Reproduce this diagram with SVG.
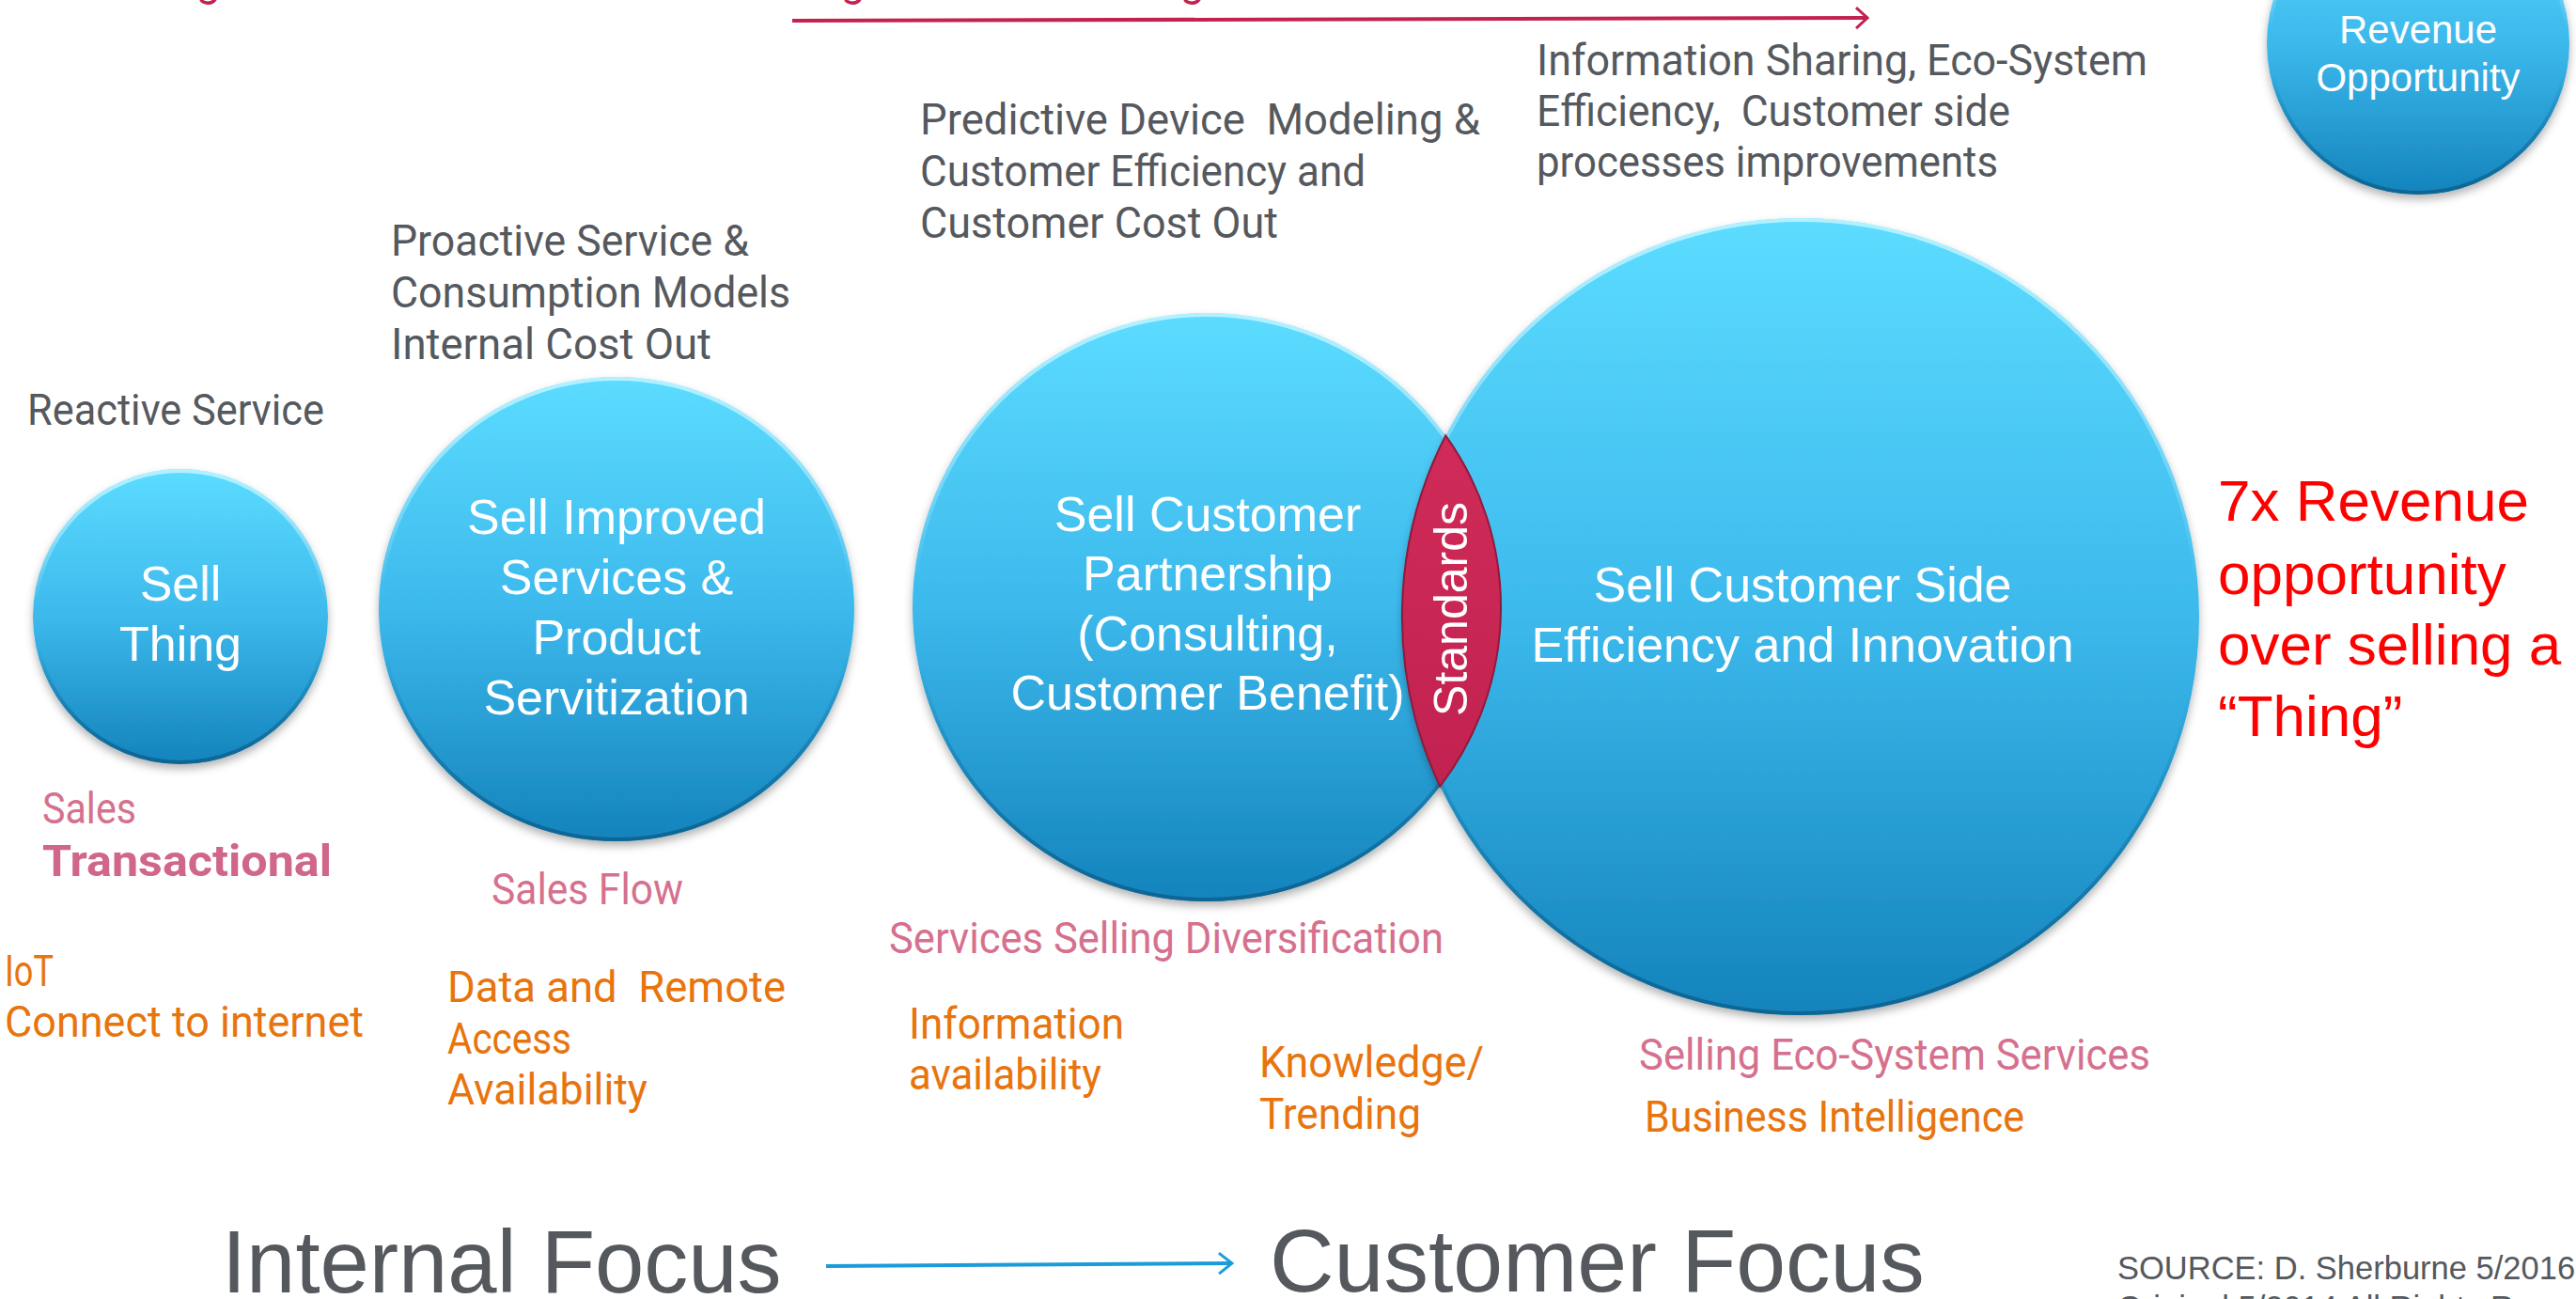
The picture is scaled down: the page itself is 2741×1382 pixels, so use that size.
<svg xmlns="http://www.w3.org/2000/svg" width="2741" height="1382" viewBox="0 0 2741 1382">
<defs>
<style>
.ball{fill:url(#blue);filter:url(#sh)}
.rim{fill:none;stroke:url(#rim);stroke-width:4}
.lbl{font-family:"Liberation Sans",Arial,sans-serif;fill:#fff;text-anchor:middle;font-size:52px}
.seg{font-family:Roboto,"Open Sans",sans-serif;font-size:46px}
.gray{fill:#55595e}
.pink{fill:#d5718e}
.orange{fill:#e8740e}
.big{font-family:"Liberation Sans",Arial,sans-serif;fill:#55595e}
.red{font-family:"Liberation Sans",Arial,sans-serif;fill:#ff0000;font-size:62px}
</style>
<linearGradient id="blue" x1="0" y1="0" x2="0" y2="1">
<stop offset="0" stop-color="#5cdcff"/>
<stop offset="0.5" stop-color="#3cb9ec"/>
<stop offset="1" stop-color="#1483bc"/>
</linearGradient>
<linearGradient id="rim" x1="0" y1="0" x2="0" y2="1">
<stop offset="0" stop-color="#c8f6ff" stop-opacity="0.8"/>
<stop offset="0.45" stop-color="#ffffff" stop-opacity="0"/>
<stop offset="0.6" stop-color="#0b5e8a" stop-opacity="0"/>
<stop offset="1" stop-color="#0b5e8a" stop-opacity="0.8"/>
</linearGradient>
<linearGradient id="crim" x1="0" y1="0" x2="0" y2="1">
<stop offset="0" stop-color="#d02b59"/>
<stop offset="1" stop-color="#c1224f"/>
</linearGradient>
<filter id="sh" x="-10%" y="-10%" width="120%" height="125%">
<feDropShadow dx="0" dy="5" stdDeviation="5" flood-color="#000" flood-opacity="0.3"/>
</filter>
<marker id="arrC" viewBox="0 0 16 26" refX="14" refY="13" markerWidth="16" markerHeight="26" markerUnits="userSpaceOnUse" orient="auto">
<path d="M2,2 L14,13 L2,24" fill="none" stroke="#c2224f" stroke-width="3"/>
</marker>
<marker id="arrB" viewBox="0 0 18 26" refX="16" refY="13" markerWidth="18" markerHeight="26" markerUnits="userSpaceOnUse" orient="auto">
<path d="M2,2 L16,13 L2,24" fill="none" stroke="#1b9bda" stroke-width="3"/>
</marker>
</defs>
<rect width="2741" height="1382" fill="#ffffff"/>

<g id="connectors">
<line x1="843" y1="22" x2="1987" y2="19" stroke="#c2224f" stroke-width="4" marker-end="url(#arrC)"/>
<line x1="879" y1="1347" x2="1311" y2="1344" stroke="#1b9bda" stroke-width="4" marker-end="url(#arrB)"/>
</g>

<g id="top-cut-text" class="seg" style="fill:#c2224f">
<text x="209" y="-4">g</text>
<text x="895" y="-4">g</text>
<text x="1256" y="-4">g</text>
</g>

<g id="n-sell-thing">
<circle class="ball" cx="192" cy="656" r="157"/>
<circle class="rim" cx="192" cy="656" r="155"/>
<text class="lbl"><tspan x="192" y="639">Sell</tspan><tspan x="192" y="703">Thing</tspan></text>
</g>

<g id="n-sell-improved">
<ellipse class="ball" cx="656" cy="648" rx="253" ry="247"/>
<ellipse class="rim" cx="656" cy="648" rx="251" ry="245"/>
<text class="lbl"><tspan x="656" y="568">Sell Improved</tspan><tspan x="656" y="632">Services &amp;</tspan><tspan x="656" y="696">Product</tspan><tspan x="656" y="760">Servitization</tspan></text>
</g>

<g id="n-sell-partnership">
<circle class="ball" cx="1284" cy="646" r="313"/>
<circle class="rim" cx="1284" cy="646" r="311"/>
<text class="lbl"><tspan x="1285" y="565">Sell Customer</tspan><tspan x="1285" y="628">Partnership</tspan><tspan x="1285" y="692">(Consulting,</tspan><tspan x="1285" y="755">Customer Benefit)</tspan></text>
</g>

<g id="n-sell-efficiency">
<circle class="ball" cx="1916" cy="656" r="424"/>
<circle class="rim" cx="1916" cy="656" r="422"/>
<text class="lbl"><tspan x="1918" y="640">Sell Customer Side</tspan><tspan x="1918" y="704">Efficiency and Innovation</tspan></text>
</g>

<g id="n-standards">
<path d="M1538.2,463.4 A424,424 0 0,0 1532.3,836.6 A313,313 0 0,0 1538.2,463.4 Z" fill="url(#crim)" stroke="#8e1a3c" stroke-width="2"/>
<text class="lbl" style="font-size:50px" transform="translate(1561,648) rotate(-90)">Standards</text>
</g>

<g id="n-revenue">
<circle class="ball" cx="2573" cy="46" r="161"/>
<circle class="rim" cx="2573" cy="46" r="159"/>
<text class="lbl" style="font-size:42px"><tspan x="2573" y="46">Revenue</tspan><tspan x="2573" y="97">Opportunity</tspan></text>
</g>

<g id="top-labels" class="seg gray">
<text x="29" y="452" textLength="316" lengthAdjust="spacingAndGlyphs">Reactive Service</text>
<text><tspan x="416" y="272" textLength="381" lengthAdjust="spacingAndGlyphs">Proactive Service &amp;</tspan><tspan x="416" y="327" textLength="425" lengthAdjust="spacingAndGlyphs">Consumption Models</tspan><tspan x="416" y="382" textLength="341" lengthAdjust="spacingAndGlyphs">Internal Cost Out</tspan></text>
<text xml:space="preserve"><tspan x="979" y="143" textLength="596" lengthAdjust="spacingAndGlyphs">Predictive Device  Modeling &amp;</tspan><tspan x="979" y="198" textLength="474" lengthAdjust="spacingAndGlyphs">Customer Efficiency and</tspan><tspan x="979" y="253" textLength="381" lengthAdjust="spacingAndGlyphs">Customer Cost Out</tspan></text>
<text xml:space="preserve"><tspan x="1635" y="80" textLength="650" lengthAdjust="spacingAndGlyphs">Information Sharing, Eco-System</tspan><tspan x="1635" y="134" textLength="504" lengthAdjust="spacingAndGlyphs">Efficiency,  Customer side</tspan><tspan x="1635" y="188" textLength="491" lengthAdjust="spacingAndGlyphs">processes improvements</tspan></text>
</g>

<g id="sales-labels" class="seg pink">
<text><tspan x="45" y="876" textLength="100" lengthAdjust="spacingAndGlyphs">Sales</tspan><tspan x="45" y="932" textLength="308" lengthAdjust="spacingAndGlyphs" font-weight="bold" style="fill:#d0668a">Transactional</tspan></text>
<text x="523" y="962" textLength="204" lengthAdjust="spacingAndGlyphs">Sales Flow</text>
<text x="946" y="1014" textLength="590" lengthAdjust="spacingAndGlyphs">Services Selling Diversification</text>
<text x="1744" y="1138" textLength="544" lengthAdjust="spacingAndGlyphs">Selling Eco-System Services</text>
</g>

<g id="tech-labels" class="seg orange">
<text><tspan x="5" y="1049" textLength="52" lengthAdjust="spacingAndGlyphs">IoT</tspan><tspan x="5" y="1103" textLength="382" lengthAdjust="spacingAndGlyphs">Connect to internet</tspan></text>
<text xml:space="preserve"><tspan x="476" y="1066" textLength="360" lengthAdjust="spacingAndGlyphs">Data and  Remote</tspan><tspan x="476" y="1121" textLength="132" lengthAdjust="spacingAndGlyphs">Access</tspan><tspan x="476" y="1175" textLength="213" lengthAdjust="spacingAndGlyphs">Availability</tspan></text>
<text><tspan x="967" y="1105" textLength="229" lengthAdjust="spacingAndGlyphs">Information</tspan><tspan x="967" y="1159" textLength="205" lengthAdjust="spacingAndGlyphs">availability</tspan></text>
<text><tspan x="1340" y="1146" textLength="239" lengthAdjust="spacingAndGlyphs">Knowledge/</tspan><tspan x="1340" y="1201" textLength="172" lengthAdjust="spacingAndGlyphs">Trending</tspan></text>
<text x="1750" y="1204" textLength="404" lengthAdjust="spacingAndGlyphs">Business Intelligence</text>
</g>

<g id="revenue-note" class="red">
<text><tspan x="2360" y="554">7x Revenue</tspan><tspan x="2360" y="632">opportunity</tspan><tspan x="2360" y="707">over selling a</tspan><tspan x="2360" y="783">“Thing”</tspan></text>
</g>

<g id="focus-labels" class="big">
<text x="236" y="1375" style="font-size:94px">Internal Focus</text>
<text x="1351" y="1374" style="font-size:95px">Customer Focus</text>
</g>

<g id="source" class="big" style="font-size:34.5px">
<text><tspan x="2253" y="1361">SOURCE: D. Sherburne 5/2016</tspan><tspan x="2253" y="1403">Original 5/2014 All Rights Reserved</tspan></text>
</g>
</svg>
